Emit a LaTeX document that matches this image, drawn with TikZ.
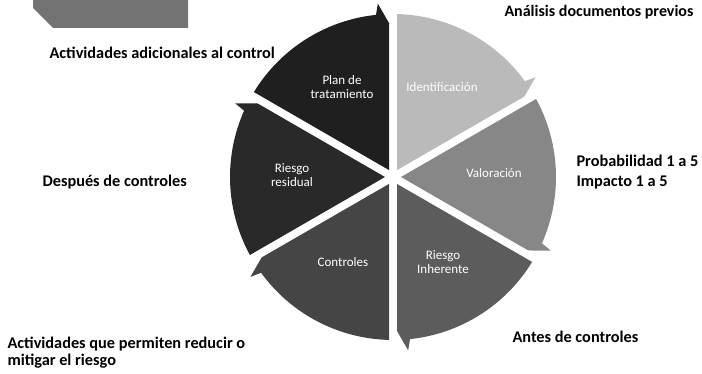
\documentclass[tikz,border=0pt]{standalone}
\usepackage{fontspec}
\setmainfont{Carlito}
\definecolor{g0}{gray}{0.45}
\definecolor{g1}{gray}{0.73}
\definecolor{g2}{gray}{0.53}
\definecolor{g3}{gray}{0.36}
\definecolor{g4}{gray}{0.27}
\definecolor{g5}{gray}{0.16}
\definecolor{g6}{gray}{0.12}
\begin{document}
\begin{tikzpicture}[x=1pt,y=1pt,
    lbl/.style={text=white,font=\fontsize{13}{14}\selectfont,align=center},
    note/.style={anchor=west,align=left,font=\bfseries\fontsize{16.3}{17}\selectfont}]
                \useasboundingbox (0,0) rectangle (702,374);
                \clip (0,0) rectangle (702,374);

                \fill[g0] (33,380) -- (33,366) -- (53,346) -- (188,346) -- (188,380) -- cycle;

                \foreach \ang/\col in {60/g1,0/g2,-60/g3,-120/g4,180/g5,120/g6}{
                  \begin{scope}[shift={(393,197)},rotate=\ang]
                    \fill[\col] (8,0) -- ++(30:156) arc[start angle=28.6,end angle=-24,radius=163]
                      -- (-25:174) -- (135.3,-73.5) -- cycle;
                  \end{scope}
                }

                \node[lbl] (plan) at (342,287) {Plan de\\tratamiento};
                \node[lbl] (ident) at (442,287) {Identificación};
                \node[lbl] (valor) at (494,201) {Valoración};
                \node[lbl] (inher) at (443,112) {Riesgo\\Inherente};
                \node[lbl] (contr) at (343,112) {Controles};
                \node[lbl] (resid) at (292,199) {Riesgo\\residual};

                \node[note,font=\bfseries\fontsize{16}{17}\selectfont] (prev) at (501,362) {Análisis documentos previos};
                \node[note] (adic) at (46,321) {Actividades adicionales al control};
                \node[note] (desp) at (39,192) {Después de controles};
                \node[note,font=\bfseries\fontsize{16.3}{19.5}\selectfont] (prob) at (573,202) {Probabilidad 1 a 5\\Impacto 1 a 5};
                \node[note] (ante) at (509,37) {Antes de controles};
                \node[note] (redu) at (4,21) {Actividades que permiten reducir o\\mitigar el riesgo};
            \end{tikzpicture}
\end{document}
